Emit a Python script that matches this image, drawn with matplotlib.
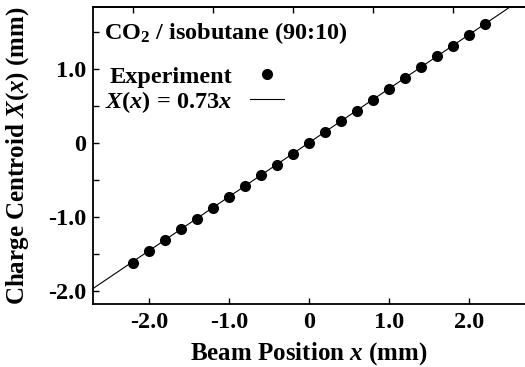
import matplotlib
matplotlib.use("Agg")
import matplotlib.pyplot as plt
import numpy as np

plt.rcParams['font.family'] = ['Liberation Serif', 'DejaVu Serif']
plt.rcParams['font.weight'] = 'bold'
plt.rcParams['mathtext.fontset'] = 'custom'
plt.rcParams['mathtext.rm'] = 'Liberation Serif:bold'
plt.rcParams['mathtext.bf'] = 'Liberation Serif:bold'
plt.rcParams['mathtext.it'] = 'Liberation Serif:bold:italic'
plt.rcParams['axes.unicode_minus'] = False

# Data
beam_x = [-2.2, -2.0, -1.8, -1.6, -1.4, -1.2, -1.0, -0.8, -0.6, -0.4, -0.2, 0.0,
          0.2, 0.4, 0.6, 0.8, 1.0, 1.2, 1.4, 1.6, 1.8, 2.0, 2.2]
centroid = [-1.62, -1.47, -1.32, -1.17, -1.03, -0.88, -0.74, -0.59, -0.44, -0.30, -0.15, 0.0,
            0.14, 0.29, 0.43, 0.58, 0.73, 0.87, 1.02, 1.17, 1.31, 1.46, 1.60]
fit_slope = 0.73
x_ticks = [-2.0, -1.0, 0.0, 1.0, 2.0]
x_ticklabels = ['-2.0', '-1.0', '0', '1.0', '2.0']
y_ticks = [-2.0, -1.0, 0.0, 1.0]
y_ticklabels = ['-2.0', '-1.0', '0', '1.0']
y_minor = [-1.5, -0.5, 0.5, 1.5]
top_ticks = [-2.2, -1.2, -0.2, 0.8, 1.8]
xlim = (-2.7, 2.7)
ylim = (-2.18, 1.83)

fig = plt.figure(figsize=(5.25, 3.67), dpi=100)
ax = fig.add_axes([93/525, 63/367, 432/525, 296.7/367])

xl = np.array(xlim)
ax.plot(xl, fit_slope * xl, color='black', lw=0.8,
        label=r'$X(x)$ = 0.73$x$', zorder=2)
ax.plot(beam_x, centroid, 'o', color='black', ms=8, mew=0,
        label='Experiment', zorder=3)

ax.set_xlim(*xlim)
ax.set_ylim(*ylim)
ax.set_xticks(x_ticks)
ax.set_xticklabels(x_ticklabels)
ax.set_yticks(y_ticks)
ax.set_yticklabels(y_ticklabels)
ax.set_yticks(y_minor, minor=True)
ax.tick_params(axis='both', which='both', direction='in', length=4, width=1,
               labelsize=17.5, pad=5)
ax.tick_params(axis='x', which='both', pad=6)
for lab in ax.get_xticklabels() + ax.get_yticklabels():
    lab.set_fontweight('bold')
for s in ['left', 'bottom', 'top']:
    ax.spines[s].set_linewidth(1.3)
ax.spines['right'].set_visible(False)

sec = ax.secondary_xaxis('top')
sec.set_xticks(top_ticks)
sec.set_xticklabels([])
sec.tick_params(direction='in', length=4, width=1)
sec.spines['top'].set_linewidth(1.3)

ax.set_xlabel(r'Beam Position $x$ (mm)', fontsize=18, fontweight='bold', labelpad=5)
ax.set_ylabel(r'Charge Centroid $X(x)$ (mm)', fontsize=18, fontweight='bold', labelpad=12)

ax.text(0.026, 0.913, r'CO$_2$ / isobutane (90:10)', transform=ax.transAxes,
        fontsize=17.5, fontweight='bold', va='center', ha='left')

h, l = ax.get_legend_handles_labels()
leg = ax.legend([h[1], h[0]], [l[1], l[0]], loc='upper left',
                bbox_to_anchor=(0.028, 0.803), borderaxespad=0, borderpad=0,
                frameon=False, markerfirst=False, handlelength=1.4,
                handletextpad=0.75, labelspacing=0.05,
                prop={'size': 17.5, 'weight': 'bold'})

fig.savefig('out.png', dpi=100)
